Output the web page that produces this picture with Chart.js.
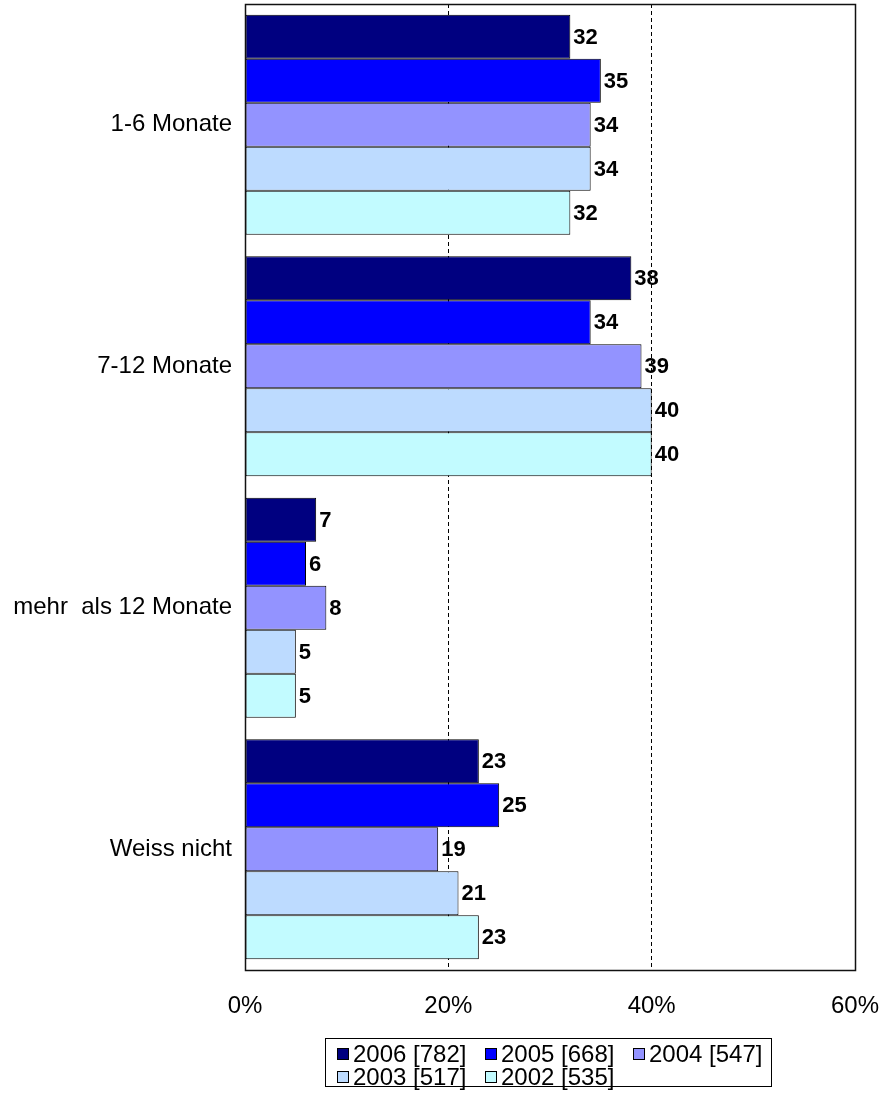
<!DOCTYPE html>
<html>
<head>
<meta charset="utf-8">
<script src="https://cdn.jsdelivr.net/npm/chart.js@4"></script>
<style>
  html, body { margin: 0; padding: 0; background: #fff; }
  #wrap { width: 882px; height: 1115px; position: relative; }
</style>
</head>
<body>
<div id="wrap"><canvas id="c" width="882" height="1115"></canvas></div>
<script>
const categories = ['1-6 Monate', '7-12 Monate', 'mehr  als 12 Monate', 'Weiss nicht'];
const seriesNames = ['2006 [782]', '2005 [668]', '2004 [547]', '2003 [517]', '2002 [535]'];
const values2006 = [32, 38, 7, 23];
const values2005 = [35, 34, 6, 25];
const values2004 = [34, 39, 8, 19];
const values2003 = [34, 40, 5, 21];
const values2002 = [32, 40, 5, 23];
const xTickValues = [0, 20, 40, 60];

const seriesValues = [values2006, values2005, values2004, values2003, values2002];
const colors = ['#000080', '#0000FF', '#9393FF', '#BDDBFF', '#C2FBFF'];
const FONT = '"Liberation Sans", Arial, sans-serif';
const PAD_BOTTOM = 100;
const AREA_BOTTOM = 970;

const datasets = seriesNames.map((n, i) => ({
  label: n,
  data: seriesValues[i],
  backgroundColor: colors[i],
  borderColor: '#000',
  borderWidth: 1,
  borderSkipped: false,
  categoryPercentage: 0.91,
  barPercentage: 1.0
}));

const framePlugin = {
  id: 'frame',
  afterDatasetsDraw(chart) {
    const {ctx, chartArea: a} = chart;
    ctx.save();
    ctx.strokeStyle = '#111';
    ctx.lineWidth = 1.5;
    ctx.strokeRect(Math.round(a.left) + 0.5, Math.round(a.top) + 0.5,
      Math.round(a.right - a.left), Math.round(a.bottom - a.top));
    ctx.restore();
  }
};

const labelPlugin = {
  id: 'valueLabels',
  afterDatasetsDraw(chart) {
    const {ctx} = chart;
    ctx.save();
    ctx.font = 'bold 22px ' + FONT;
    ctx.fillStyle = '#000';
    ctx.textAlign = 'left';
    ctx.textBaseline = 'middle';
    chart.data.datasets.forEach((ds, i) => {
      const meta = chart.getDatasetMeta(i);
      meta.data.forEach((bar, j) => {
        ctx.fillText(String(ds.data[j]), bar.x + 3, bar.y + 1);
      });
    });
    ctx.restore();
  }
};

const legendPlugin = {
  id: 'boxLegend',
  afterDraw(chart) {
    const {ctx} = chart;
    const boxL = 325, boxT = 1038, boxW = 446, boxH = 48;
    ctx.save();
    ctx.strokeStyle = '#000';
    ctx.lineWidth = 1;
    ctx.strokeRect(boxL + 0.5, boxT + 0.5, boxW, boxH);
    ctx.font = '24px ' + FONT;
    ctx.textBaseline = 'middle';
    ctx.textAlign = 'left';
    const itemW = 148, sq = 12;
    chart.data.datasets.forEach((ds, i) => {
      const row = Math.floor(i / 3), col = i % 3;
      const x = boxL + 12 + col * itemW;
      const y = boxT + 16 + row * 23;
      ctx.fillStyle = ds.backgroundColor;
      ctx.fillRect(x, y - sq / 2, sq, sq);
      ctx.strokeStyle = '#000';
      ctx.strokeRect(x + 0.5, y - sq / 2 + 0.5, sq - 1, sq - 1);
      ctx.fillStyle = '#000';
      ctx.fillText(ds.label, x + sq + 4, y + 1);
    });
    ctx.restore();
  }
};

new Chart(document.getElementById('c'), {
  type: 'bar',
  data: { labels: categories, datasets },
  options: {
    indexAxis: 'y',
    responsive: false,
    animation: false,
    layout: { padding: { left: 0, right: 27, top: 4, bottom: PAD_BOTTOM } },
    plugins: { legend: { display: false }, tooltip: { enabled: false } },
    scales: {
      x: {
        min: 0, max: 60,
        afterBuildTicks(scale) { scale.ticks = xTickValues.map(v => ({ value: v })); },
        afterFit(scale) {
          scale.height = 1115 - PAD_BOTTOM - AREA_BOTTOM;
          scale.paddingLeft = 0; scale.paddingRight = 0;
        },
        ticks: {
          color: '#000',
          padding: 22,
          maxRotation: 0,
          font: { family: FONT, size: 24 },
          callback: v => v + '%'
        },
        grid: {
          drawTicks: false,
          lineWidth: 1,
          color: c => (c.tick && (c.tick.value === 0 || c.tick.value === 60)) ? 'rgba(0,0,0,0)' : '#000'
        },
        border: { display: false, dash: [4, 3] }
      },
      y: {
        afterFit(scale) {
          scale.width = 245;
          scale.paddingTop = 0; scale.paddingBottom = 0;
        },
        ticks: {
          color: '#000',
          padding: 13,
          font: { family: FONT, size: 24 }
        },
        grid: { display: false, drawTicks: false },
        border: { display: false }
      }
    }
  },
  plugins: [framePlugin, labelPlugin, legendPlugin]
});
</script>
</body>
</html>
